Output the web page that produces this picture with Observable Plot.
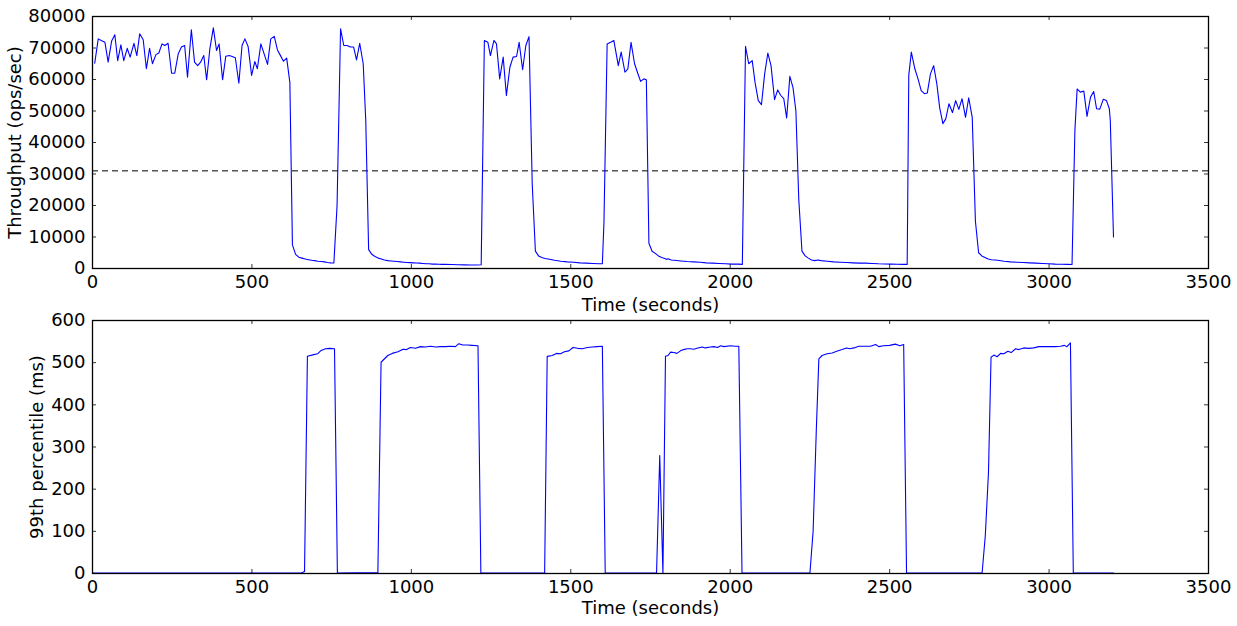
<!DOCTYPE html>
<html><head><meta charset="utf-8">
<script src="https://cdn.jsdelivr.net/npm/d3@7"></script>
<script src="https://cdn.jsdelivr.net/npm/@observablehq/plot@0.6"></script>
<style>html,body{margin:0;padding:0;background:#fff;} #chart svg{display:block;overflow:visible;}</style>
</head><body><div id="chart"></div>
<script>
// ---- Throughput (top panel) ----
const thrTime = [7,18,29,39,49,60,70,79,89,98,109,118,130,139,148,159,169,179,188,199,208,218,227,237,248,258,269,279,289,298,310,320,330,339,349,358,368,379,389,397,408,418,429,438,448,459,469,478,488,499,509,517,528,538,549,559,570,580,590,599,609,619,
627,637,647,657,667,677,687,697,707,717,727,737,747,757,767,778,788,798,809,819,828,838,849,857,
866,876,886,896,906,916,926,936,946,956,966,976,986,996,1006,1016,1026,1036,1046,1056,1066,1076,1086,1096,1106,1126,1146,1166,1186,1206,1219,
1229,1240,1248,1259,1267,1277,1288,1298,1309,1319,1330,1338,1349,1359,1369,
1379,1389,1399,1409,1419,1429,1449,1469,1489,1509,1529,1549,1569,1589,1599,1604,
1614,1625,1635,1649,1658,1670,1679,1689,1700,1710,1719,1729,1737,
1745,1755,1765,1775,1785,1795,1800,1805,1815,1825,1845,1865,1885,1905,1925,1945,1965,1985,2005,2025,2038,
2048,2058,2069,2078,2088,2098,2108,2118,2128,2139,2149,2158,2168,2177,2187,2197,2206,
2215,2225,2235,2245,2255,2265,2275,2285,2305,2325,2345,2365,2385,2405,2425,2445,2465,2485,2505,2525,2545,2555,
2560,2568,2579,2589,2599,2609,2618,2628,2638,2648,2657,2667,2676,2686,2697,2707,2717,2727,2738,2748,2759,
2769,2779,2789,2799,2809,2819,2839,2859,2879,2899,2919,2939,2959,2979,2999,3019,3039,3059,3072,
3081,3088,3098,3109,3119,3130,3140,3149,3159,3170,3180,3189,3192,3202];
const thrValue = [65200,72900,72300,71800,65500,72200,74200,66000,71000,66000,69900,67100,71500,67600,74500,72600,63400,69900,65000,67900,68400,71300,70800,71500,62000,62000,68200,70300,70800,60700,75800,65500,64400,65500,67600,59900,69700,76400,69200,71300,59900,67400,67600,67300,66900,58800,70800,72900,70500,61300,65700,63400,71300,68200,64800,72900,73700,69400,67500,65800,66800,59000,
7500,4500,3600,3300,3000,2800,2600,2500,2300,2200,2100,1900,1800,1750,20000,76100,70800,70800,70300,70300,66200,71500,65000,47000,
6000,4500,3800,3300,3000,2700,2500,2400,2300,2200,2100,2000,1900,1850,1800,1750,1700,1600,1500,1500,1400,1400,1350,1300,1300,1250,1200,1150,1100,1100,1200,
72400,71800,67600,72400,71300,60200,67100,54900,63900,67100,67300,71800,63100,70800,73600,
27000,5500,4000,3500,3200,3000,2600,2300,2100,2000,1800,1700,1600,1500,1500,14500,
71300,71800,72400,64400,68700,62300,63400,71800,65000,62000,59400,60200,59900,
8000,5500,4800,4000,3500,3200,2900,3100,2700,2600,2400,2200,2100,2000,1800,1700,1600,1500,1400,1400,1300,
70500,65000,66000,59000,53300,52000,61800,68400,64400,53600,56700,55000,53900,47800,61000,57400,50000,
22000,5500,4000,3300,2700,2500,2700,2500,2300,2100,2000,1900,1800,1700,1700,1600,1500,1450,1400,1350,1300,1300,
61300,68700,63400,60200,56500,55500,55700,61800,64400,58600,51000,46000,47500,52300,49500,53300,50500,53900,48000,54200,48000,
15000,5000,4000,3500,3000,2800,2600,2300,2100,2000,1900,1800,1700,1600,1500,1400,1350,1300,1250,
43800,57000,56000,56300,48300,54400,56200,50700,50600,53700,53300,50700,47000,10000];
const thrThreshold = 31000;

// ---- 99th percentile latency (bottom panel) ----
const latTime = [0,655,665,674,694,706,717,731,744,759,768,
895,905,926,940,958,974,985,997,1013,1029,1044,1060,1076,1091,1107,1123,1138,1149,1161,1176,1191,1209,1218,
1418,1426,1442,1455,1468,1480,1494,1507,1522,1536,1552,1567,1583,1599,1608,
1769,1779,1789,1797,1805,1813,1823,1833,1844,1854,1865,1875,1886,1896,1912,1922,1938,1949,1960,1970,1980,2001,2016,2027,2037,
2250,2260,2270,2278,2288,2304,2320,2334,2351,2365,2375,2388,2403,2418,2440,2456,2466,2480,2500,2518,2532,2544,2553,
2790,2800,2810,2818,2827,2837,2848,2858,2871,2881,2895,2905,2921,2935,2952,2968,2985,3004,3020,3036,3048,3056,3067,3076,3202];
const latValue = [1,1,5,515,519,521,529,533,534,533,1,
2,501,517,522,526,532,531,536,534,538,537,539,537,538,538,539,538,545,542,542,541,540,1,
1,515,517,522,521,526,528,536,534,533,536,537,538,539,1,
1,280,1,515,517,525,524,522,528,531,533,533,532,534,537,535,537,538,536,540,538,540,539,539,1,
1,100,340,509,517,521,523,527,531,535,533,535,539,539,539,543,538,540,541,544,540,543,1,
1,90,240,513,518,514,522,521,527,524,533,531,535,534,535,538,538,538,538,539,541,538,547,1,1];

// ---- axes ----
const xTicks = [0,500,1000,1500,2000,2500,3000,3500];
const thrTicks = [0,10000,20000,30000,40000,50000,60000,70000,80000];
const latTicks = [0,100,200,300,400,500,600];
const xLabel = "Time (seconds)";
const thrLabel = "Throughput (ops/sec)";
const latLabel = "99th percentile (ms)";

const W = 1237, ML = 92, MR = 29, TL = 4;
const font = "DejaVu Sans";

function panel({time, value, yDomain, yTicks, yLabel, height, marginTop, marginBottom, yLabelX, xLabelDy, extra = []}) {
  const plotH = height - marginTop - marginBottom;
  const plotW = W - ML - MR;
  const rows = time.map((t, i) => ({t, v: value[i]}));
  return Plot.plot({
    width: W, height, marginLeft: ML, marginRight: MR, marginTop, marginBottom,
    x: {domain: [0, 3500]},
    y: {domain: yDomain},
    style: {fontFamily: font, fontSize: "18px", color: "black", background: "white", overflow: "visible"},
    marks: [
      ...extra,
      Plot.line(rows, {x: "t", y: "v", stroke: "#0000ff", strokeWidth: 1.1}),
      Plot.tickX(xTicks, {x: d => d, insetTop: plotH - TL, stroke: "black", strokeWidth: 0.8}),
      Plot.tickX(xTicks, {x: d => d, insetBottom: plotH - TL, stroke: "black", strokeWidth: 0.8}),
      Plot.tickY(yTicks, {y: d => d, insetRight: plotW - TL, stroke: "black", strokeWidth: 0.8}),
      Plot.tickY(yTicks, {y: d => d, insetLeft: plotW - TL, stroke: "black", strokeWidth: 0.8}),
      Plot.frame({stroke: "black", strokeWidth: 1.3}),
      Plot.axisX(xTicks, {anchor: "bottom", tickSize: 0, tickPadding: 7, tickFormat: d => String(d), label: null, fontSize: 18}),
      Plot.axisY(yTicks, {anchor: "left", tickSize: 0, tickPadding: 7, tickFormat: d => String(d), label: null, fontSize: 18}),
      Plot.text([xLabel], {frameAnchor: "bottom", dy: xLabelDy, lineAnchor: "top", textAnchor: "middle", text: d => d, fontSize: 18, fill: "black"}),
      Plot.text([yLabel], {frameAnchor: "left", dx: yLabelX - ML, rotate: -90, textAnchor: "middle", lineAnchor: "middle", text: d => d, fontSize: 18, fill: "black"})
    ]
  });
}

const topPanel = panel({
  time: thrTime, value: thrValue, yDomain: [0, 80000], yTicks: thrTicks, yLabel: thrLabel,
  height: 316, marginTop: 16, marginBottom: 48, yLabelX: 15, xLabelDy: 30,
  extra: [Plot.ruleY([thrThreshold], {stroke: "black", strokeWidth: 1, strokeDasharray: "6,4"})]
});
const bottomPanel = panel({
  time: latTime, value: latValue, yDomain: [0, 600], yTicks: latTicks, yLabel: latLabel,
  height: 310, marginTop: 4, marginBottom: 53, yLabelX: 37, xLabelDy: 28
});
const root = document.getElementById("chart");
root.appendChild(topPanel);
root.appendChild(bottomPanel);
</script>
</body></html>
